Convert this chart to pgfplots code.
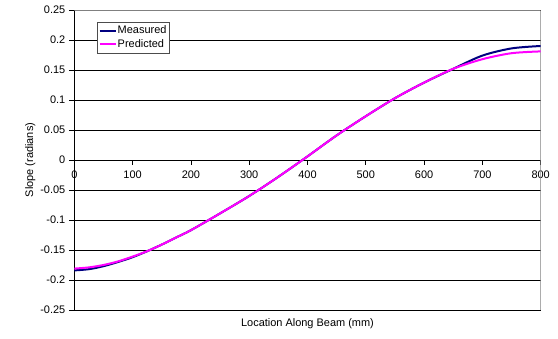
\documentclass[border=0pt]{standalone}
\usepackage{fontspec}
\setmainfont{Liberation Sans}
\usepackage{pgfplots}
\pgfplotsset{compat=1.18}
\definecolor{navyc}{HTML}{000080}
\definecolor{magc}{HTML}{FF00FF}
\begin{document}
\begin{tikzpicture}
\path[use as bounding box] (0,0) rectangle (558bp,339bp);
\begin{axis}[
  at={(74.3bp,29bp)}, anchor=south west,
  scale only axis, width=466.4bp, height=300bp,
  xmin=0, xmax=800, ymin=-0.25, ymax=0.25,
  axis x line*=middle, axis y line*=left,
  axis line style={black, line width=0.6bp},
  hide obscured x ticks=false,
  xtick={0,100,200,300,400,500,600,700,800},
  xticklabels={0,100,200,300,400,500,600,700,800},
  ytick={-0.25,-0.2,-0.15,-0.1,-0.05,0,0.05,0.1,0.15,0.2,0.25},
  yticklabels={-0.25,-0.2,-0.15,-0.1,-0.05,0,0.05,0.1,0.15,0.2,0.25},
  tick align=outside, major tick length=5bp,
  xtick style={black, line width=0.6bp},
  ytick style={black, line width=0.6bp},
  ticklabel style={font=\fontsize{11}{13}\selectfont},
  xticklabel style={yshift=-2.5bp},
  yticklabel style={xshift=-0.5bp},
  ymajorgrids, grid style={black, line width=0.6bp},
  xlabel={Location Along Beam (mm)},
  ylabel={Slope (radians)},
  label style={font=\fontsize{11}{13}\selectfont},
  xlabel style={at={(axis description cs:0.5,0)}, anchor=center, yshift=-14bp},
  ylabel style={at={(axis description cs:-0.0943,0.5)}, anchor=center, rotate=0},
  legend style={at={(axis description cs:0.0487,0.96)}, anchor=north west,
    draw=black!70, fill=white, font=\fontsize{11}{13}\selectfont,
    inner xsep=1.5bp, inner ysep=1.5bp, row sep=0bp,
    nodes={inner xsep=1bp, inner ysep=2.2bp}},
  legend cell align=left,
  legend image code/.code={\draw[#1] (0bp,0bp) -- (16bp,0bp);},
]
\draw[gray, line width=0.6bp] (rel axis cs:0,1) -- (rel axis cs:1,1) -- (rel axis cs:1,0) -- (rel axis cs:0,0);
\addplot[navyc, line width=2bp, smooth] coordinates {
(0,-0.184) (25,-0.182) (50,-0.177) (75,-0.170) (100,-0.162) (125,-0.152)
(150,-0.141) (175,-0.129) (200,-0.117) (250,-0.089) (300,-0.060)
(350,-0.028) (400,0.006) (450,0.041) (500,0.073) (550,0.103)
(600,0.129) (650,0.152) (700,0.174) (750,0.186) (800,0.190)};
\addlegendentry{Measured}
\addplot[magc, line width=2bp, smooth] coordinates {
(0,-0.181) (25,-0.179) (50,-0.175) (75,-0.169) (100,-0.161) (125,-0.152)
(150,-0.141) (175,-0.129) (200,-0.117) (250,-0.089) (300,-0.060)
(350,-0.028) (400,0.006) (450,0.041) (500,0.073) (550,0.103)
(600,0.129) (650,0.152) (700,0.168) (750,0.178) (800,0.181)};
\addlegendentry{Predicted}
\end{axis}
\end{tikzpicture}
\end{document}
